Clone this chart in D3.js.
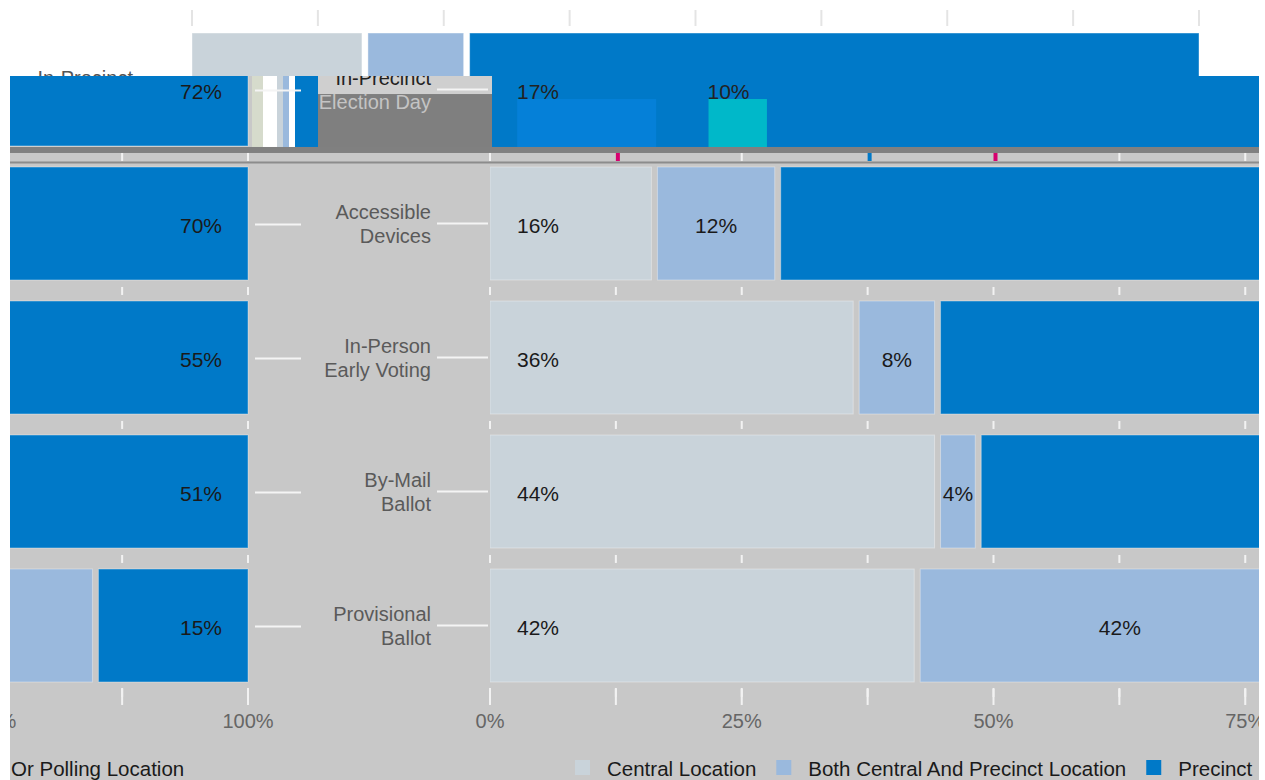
<!DOCTYPE html>
<html>
<head>
<meta charset="utf-8">
<script src="https://cdn.jsdelivr.net/npm/d3@7/dist/d3.min.js"></script>
<style>
  html, body { margin: 0; padding: 0; background: #fff; }
  svg { display: block; font-family: "Liberation Sans", Arial, sans-serif; }
</style>
</head>
<body>
<svg id="chart" width="1265" height="780"></svg>
<script>
// ---------------- data ----------------
const categories = ["In-Precinct Election Day", "Accessible Devices", "In-Person Early Voting", "By-Mail Ballot", "Provisional Ballot"];
const labelLines = [["In-Precinct", "Election Day"], ["Accessible", "Devices"], ["In-Person", "Early Voting"], ["By-Mail", "Ballot"], ["Provisional", "Ballot"]];
const seriesNames = ["Central Location", "Both Central And Precinct Location", "Precinct"];
const centralValues = [17, 16, 36, 44, 42];
const bothValues = [10, 12, 8, 4, 42];
const precinctValues = [72, 70, 55, 51, 15];
const tickValues = [0, 12.5, 25, 37.5, 50, 62.5, 75, 87.5, 100];
const tickLabels = ["0%", "", "25%", "", "50%", "", "75%", "", "100%"];
const legendTitle = "Or Polling Location";

// ---------------- layout / style ----------------
const colors = ["#c9d3da", "#9ab9dd", "#0079c8"];
const W = 1265, H = 780;
const panelL = 10, panelR = 1259, panelTop = 76;
const leftShift = -1249;   // left pane shows the end of the same axis
const topShift = -298;     // top strip shows an offset copy of the first row
const gap = 3;

const svg = d3.select("#chart");
const defs = svg.append("defs");
function clip(id, x, y, w, h) {
  defs.append("clipPath").attr("id", id).append("rect").attr("x", x).attr("y", y).attr("width", w).attr("height", h);
  return "url(#" + id + ")";
}

const x = d3.scaleLinear().domain([0, 100]).range([490, 1497]);
const y = d3.scaleBand().domain(categories).range([22.5, 692.5]).paddingInner(0.157).paddingOuter(0.0785);

// stacked segments, normalised to the full bar
const rows = categories.map((c, i) => {
  const vals = [centralValues[i], bothValues[i], precinctValues[i]];
  const tot = d3.sum(vals);
  let cum = 0;
  const segs = vals.map((v, k) => {
    const s = cum / tot * 100; cum += v; const e = cum / tot * 100;
    return { cat: c, k, v, s, e };
  });
  return { cat: c, i, segs };
});

function segX0(d, sx) { return sx(d.s) + (d.k > 0 ? gap : 0); }
function segX1(d, sx) { return sx(d.e) - (d.k < 2 ? gap : 0); }

// backgrounds
svg.append("rect").attr("width", W).attr("height", H).attr("fill", "#fff");
svg.append("rect").attr("x", panelL).attr("y", panelTop).attr("width", panelR - panelL).attr("height", H - panelTop).attr("fill", "#c8c8c8");

// ---------------- top strip (offset view of first row) ----------------
const xt = v => x(v) + topShift;
const topG = svg.append("g").attr("clip-path", clip("cTop", 0, 0, W, panelTop));
topG.selectAll("line.tt").data(tickValues).join("line")
  .attr("x1", d => xt(d)).attr("x2", d => xt(d)).attr("y1", 10).attr("y2", 26)
  .attr("stroke", "#e4e4e4").attr("stroke-width", 2);
topG.selectAll("rect.tb").data(rows[0].segs).join("rect")
  .attr("x", d => segX0(d, xt)).attr("width", d => segX1(d, xt) - segX0(d, xt))
  .attr("y", y(categories[0])).attr("height", y.bandwidth())
  .attr("fill", d => colors[d.k]).attr("stroke", "rgba(255,255,255,0.4)");
topG.append("text").attr("x", 431 + topShift).attr("y", y(categories[0]) + y.bandwidth() / 2 - 12)
  .attr("text-anchor", "end").attr("dominant-baseline", "central").attr("font-size", 20).attr("fill", "#555")
  .text(labelLines[0][0]);

// ---------------- left pane ----------------
const xl = v => x(v) + leftShift;
const leftG = svg.append("g").attr("clip-path", clip("cLeft", panelL, panelTop, 250 - panelL, 620));
rows.forEach(r => {
  leftG.selectAll(null).data(r.segs).join("rect")
    .attr("x", d => segX0(d, xl)).attr("width", d => segX1(d, xl) - segX0(d, xl))
    .attr("y", y(r.cat)).attr("height", y.bandwidth())
    .attr("fill", d => colors[d.k]).attr("stroke", "rgba(255,255,255,0.35)");
  const p = r.segs[2];
  leftG.append("text").attr("x", xl(p.e) - 26).attr("y", y(r.cat) + y.bandwidth() / 2 + 2)
    .attr("text-anchor", "end").attr("dominant-baseline", "central").attr("font-size", 21).attr("fill", "#1a1a1a")
    .text(precinctValues[r.i] + "%");
});

// ---------------- right pane ----------------
const rightG = svg.append("g").attr("clip-path", clip("cRight", 490, panelTop, panelR - 490, 620));
rows.forEach(r => {
  const cy = y(r.cat) + y.bandwidth() / 2 + 2;
  if (r.i === 0) {
    // first row rendered as a solid precinct-coloured band with two inner blocks
    rightG.append("rect").attr("x", x(0)).attr("width", x(100) - x(0))
      .attr("y", y(r.cat)).attr("height", y.bandwidth() + 2).attr("fill", colors[2]);
    const glitch = [{ a: 2.7, b: 16.5, c: "#0580d8" }, { a: 21.7, b: 27.5, c: "#00b8c9" }];
    rightG.selectAll(null).data(glitch).join("rect")
      .attr("x", d => x(d.a)).attr("width", d => x(d.b) - x(d.a))
      .attr("y", y(r.cat) + 66).attr("height", y.bandwidth() - 64).attr("fill", d => d.c);
    rightG.append("text").attr("x", x(0) + 27).attr("y", cy).attr("dominant-baseline", "central")
      .attr("font-size", 21).attr("fill", "#222").text(centralValues[0] + "%");
    rightG.append("text").attr("x", x(21.6)).attr("y", cy).attr("dominant-baseline", "central")
      .attr("font-size", 21).attr("fill", "#222").text(bothValues[0] + "%");
    return;
  }
  rightG.selectAll(null).data(r.segs).join("rect")
    .attr("x", d => segX0(d, x)).attr("width", d => segX1(d, x) - segX0(d, x))
    .attr("y", y(r.cat)).attr("height", y.bandwidth())
    .attr("fill", d => colors[d.k]).attr("stroke", "rgba(255,255,255,0.35)");
  const c = r.segs[0], b = r.segs[1];
  rightG.append("text").attr("x", x(c.s) + 27).attr("y", cy).attr("dominant-baseline", "central")
    .attr("font-size", 21).attr("fill", "#1a1a1a").text(centralValues[r.i] + "%");
  rightG.append("text").attr("x", (segX0(b, x) + segX1(b, x)) / 2 - (r.i === 4 ? 11 : 0)).attr("y", cy)
    .attr("text-anchor", "middle").attr("dominant-baseline", "central")
    .attr("font-size", 21).attr("fill", "#1a1a1a").text(bothValues[r.i] + "%");
});

// ---------------- first-row artefacts in the label column ----------------
const r0 = y(categories[0]);
const strips = [
  { a: 252, b: 263, c: "#d6dbcc" }, { a: 263, b: 277, c: "#ffffff" }, { a: 277, b: 283, c: "#c9d3da" },
  { a: 283, b: 289, c: "#9ab9dd" }, { a: 289, b: 295, c: "#ffffff" }, { a: 295, b: 318, c: colors[2] }
];
svg.selectAll("rect.strip").data(strips).join("rect")
  .attr("x", d => d.a).attr("width", d => d.b - d.a).attr("y", panelTop).attr("height", r0 + y.bandwidth() + 2 - panelTop)
  .attr("fill", d => d.c);
svg.append("rect").attr("x", 318).attr("width", 174).attr("y", r0 + 61).attr("height", y.bandwidth() - 59).attr("fill", "#7f7f7f");
svg.append("rect").attr("x", 318).attr("width", 174).attr("y", panelTop).attr("height", r0 + 61 - panelTop).attr("fill", "#cfcfcf");

// ---------------- category labels and connector lines ----------------
const midG = svg.append("g").attr("clip-path", clip("cMid", 250, panelTop, 240, 620));
rows.forEach(r => {
  const cy = y(r.cat) + y.bandwidth() / 2;
  midG.append("line").attr("x1", 255).attr("x2", 301).attr("y1", cy + 1).attr("y2", cy + 1).attr("stroke", "#f4f4f4").attr("stroke-width", 2);
  midG.append("line").attr("x1", 437).attr("x2", 488).attr("y1", cy).attr("y2", cy).attr("stroke", "#f4f4f4").attr("stroke-width", 2);
  labelLines[r.i].forEach((t, j) => {
    midG.append("text").attr("x", 431).attr("y", cy + (j === 0 ? -12 : 12))
      .attr("text-anchor", "end").attr("dominant-baseline", "central").attr("font-size", 20)
      .attr("fill", r.i === 0 ? (j === 0 ? "#222" : "#c4c4c4") : "#5a5a5a")
      .text(t);
  });
});

// ---------------- ticks between rows ----------------
svg.append("rect").attr("x", panelL).attr("width", panelR - panelL).attr("y", r0 + y.bandwidth() + 1).attr("height", 6).attr("fill", "#808080");
svg.append("rect").attr("x", panelL).attr("width", panelR - panelL).attr("y", r0 + y.bandwidth() + 15.5).attr("height", 2).attr("fill", "#8c8c8c");
const gapTicks = svg.append("g");
categories.forEach((c, i) => {
  const yb = y(c) + y.bandwidth() + 7;
  const lt = tickValues.filter(v => xl(v) >= panelL && xl(v) <= 250);
  const rt = tickValues.filter(v => x(v) <= panelR);
  const cols = v => (i === 0 && (v === 12.5 || v === 50)) ? "#d6006f" : (i === 0 && v === 37.5) ? "#0079c8" : "#f2f2f2";
  gapTicks.selectAll(null).data(lt).join("rect")
    .attr("x", d => xl(d) - 1).attr("width", 2).attr("y", yb).attr("height", 8).attr("fill", "#f2f2f2");
  gapTicks.selectAll(null).data(rt).join("rect")
    .attr("x", d => x(d) + (cols(d) === "#f2f2f2" ? -1 : 0)).attr("width", d => cols(d) === "#f2f2f2" ? 2 : 4)
    .attr("y", yb).attr("height", 8).attr("fill", cols);
});

// ---------------- bottom axis ----------------
const axY = y(categories[4]) + y.bandwidth();
const axL = svg.append("g").attr("clip-path", clip("cAxL", panelL, 0, 250 - panelL + 30, H));
const axR = svg.append("g").attr("clip-path", clip("cAxR", 250 + 30, 0, panelR - 280, H));
[[axL, xl], [axR, x]].forEach(([g, sx]) => {
  g.selectAll("rect.bt").data(tickValues).join("rect")
    .attr("x", d => sx(d) - 1).attr("width", 2).attr("y", axY + 6).attr("height", 17).attr("fill", "#f2f2f2");
  g.selectAll("text.bl").data(tickValues).join("text")
    .attr("x", d => sx(d)).attr("y", axY + 46).attr("text-anchor", "middle")
    .attr("font-size", 20).attr("fill", "#666")
    .text((d, i) => tickLabels[i]);
});

// ---------------- legend ----------------
svg.append("text").attr("x", 11).attr("y", 776).attr("font-size", 20.5).attr("fill", "#1a1a1a").text(legendTitle);
let lx = 575;
seriesNames.forEach((n, k) => {
  svg.append("rect").attr("x", lx).attr("y", 760).attr("width", 15).attr("height", 15).attr("fill", colors[k]);
  const t = svg.append("text").attr("x", lx + 32).attr("y", 776).attr("font-size", 20.5).attr("fill", "#1a1a1a").text(n);
  lx += 32 + t.node().getComputedTextLength() + 20;
});

// white margins
svg.append("rect").attr("x", 0).attr("y", panelTop).attr("width", panelL).attr("height", H).attr("fill", "#fff");
svg.append("rect").attr("x", panelR).attr("y", panelTop).attr("width", W - panelR).attr("height", H).attr("fill", "#fff");
</script>
</body>
</html>
